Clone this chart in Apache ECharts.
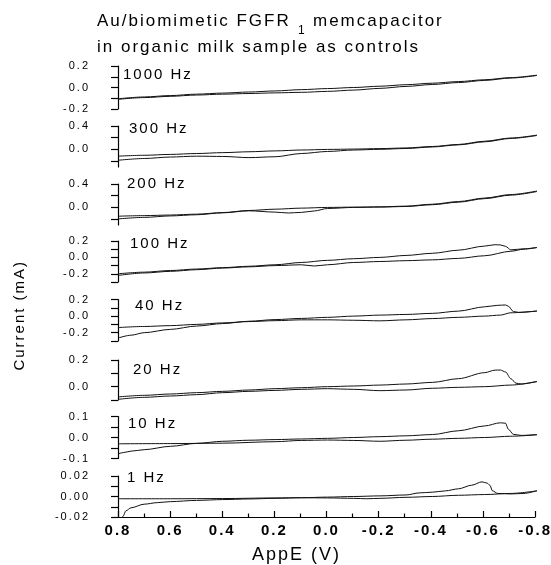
<!DOCTYPE html>
<html>
<head>
<meta charset="utf-8">
<script src="https://cdn.jsdelivr.net/npm/echarts@6/dist/echarts.min.js"></script>
<style>
  html, body { margin: 0; padding: 0; background: #fff; }
  #wrap { position: relative; width: 551px; height: 565px; }
  #frame, #plot { position: absolute; left: 0; top: 0; width: 551px; height: 565px; }
</style>
</head>
<body>
<div id="wrap">
  <div id="frame"></div>
  <div id="plot"></div>
</div>
<script>
// ---- data -------------------------------------------------------------
// Panel captions, top to bottom
const frequencies = ['1000 Hz', '300 Hz', '200 Hz', '100 Hz', '40 Hz', '20 Hz', '10 Hz', '1 Hz'];

// Applied potential axis (V), drawn from +0.8 on the left to -0.8 on the right
const potentialMin = -0.8;
const potentialMax = 0.8;
const potentialStep = 0.2;

// Current (mA) scale of each panel
const currentMin = [-0.2, -0.3, -0.3, -0.3, -0.3, -0.1, -0.1, -0.02];
const currentMax = [0.2, 0.4, 0.4, 0.2, 0.2, 0.2, 0.1, 0.02];
const currentTicks = [
  [-0.2, -0.1, 0, 0.1, 0.2],
  [-0.2, 0, 0.2, 0.4],
  [-0.2, 0, 0.2, 0.4],
  [-0.3, -0.2, -0.1, 0, 0.1, 0.2],
  [-0.3, -0.2, -0.1, 0, 0.1, 0.2],
  [-0.1, 0, 0.1, 0.2],
  [-0.1, -0.05, 0, 0.05, 0.1],
  [-0.02, -0.01, 0, 0.01, 0.02]
];
const currentTickLabels = [
  [-0.2, 0, 0.2],
  [0, 0.4],
  [0, 0.4],
  [-0.2, 0, 0.2],
  [-0.2, 0, 0.2],
  [0, 0.2],
  [-0.1, 0, 0.1],
  [-0.02, 0, 0.02]
];
const currentDigits = [1, 1, 1, 1, 1, 1, 1, 2];

// Voltammogram branches, [E (V), I (mA)]
const scan1000a = [[0.8,-0.105],[0.7,-0.088],[0.6,-0.075],[0.5,-0.062],[0.4,-0.052],[0.3,-0.042],[0.2,-0.032],[0.1,-0.02],[0.0,-0.01],[-0.1,0.0],[-0.2,0.012],[-0.3,0.026],[-0.4,0.04],[-0.5,0.055],[-0.6,0.072],[-0.7,0.092],[-0.8,0.115]];
const scan1000b = [[0.8,-0.11],[0.7,-0.094],[0.6,-0.082],[0.5,-0.07],[0.4,-0.062],[0.3,-0.056],[0.2,-0.05],[0.1,-0.045],[0.0,-0.036],[-0.1,-0.024],[-0.2,-0.008],[-0.3,0.01],[-0.4,0.028],[-0.5,0.046],[-0.6,0.066],[-0.7,0.088],[-0.8,0.112]];

const scan300a = [[0.8,-0.115],[0.7,-0.1],[0.6,-0.085],[0.5,-0.07],[0.4,-0.055],[0.3,-0.04],[0.2,-0.025],[0.1,-0.01],[0.0,0.0],[-0.1,0.006],[-0.2,0.014],[-0.3,0.025],[-0.4,0.05],[-0.5,0.085],[-0.6,0.14],[-0.7,0.195],[-0.8,0.245]];
const scan300b = [[0.8,-0.185],[0.7,-0.155],[0.6,-0.13],[0.5,-0.115],[0.4,-0.12],[0.3,-0.14],[0.2,-0.125],[0.1,-0.07],[0.0,-0.035],[-0.1,-0.01],[-0.2,0.002],[-0.3,0.016],[-0.4,0.042],[-0.5,0.078],[-0.6,0.13],[-0.7,0.188],[-0.8,0.238]];

const scan200a = [[0.8,-0.15],[0.7,-0.14],[0.6,-0.13],[0.5,-0.115],[0.4,-0.088],[0.3,-0.052],[0.2,-0.03],[0.1,-0.012],[0.0,0.0],[-0.1,0.005],[-0.2,0.01],[-0.3,0.022],[-0.4,0.055],[-0.5,0.1],[-0.6,0.16],[-0.7,0.22],[-0.8,0.28]];
const scan200b = [[0.8,-0.196],[0.7,-0.17],[0.6,-0.145],[0.5,-0.125],[0.4,-0.092],[0.3,-0.058],[0.2,-0.08],[0.15,-0.095],[0.1,-0.085],[0.05,-0.06],[0.0,-0.018],[-0.1,0.0],[-0.2,0.006],[-0.3,0.016],[-0.4,0.046],[-0.5,0.09],[-0.6,0.15],[-0.7,0.21],[-0.8,0.272]];

const scan100a = [[0.8,-0.2],[0.7,-0.18],[0.6,-0.16],[0.5,-0.142],[0.4,-0.125],[0.3,-0.108],[0.2,-0.09],[0.1,-0.062],[0.0,-0.036],[-0.1,-0.016],[-0.2,0.0],[-0.3,0.024],[-0.4,0.05],[-0.5,0.088],[-0.6,0.138],[-0.64,0.155],[-0.66,0.152],[-0.68,0.135],[-0.7,0.092],[-0.75,0.105],[-0.8,0.12]];
const scan100b = [[0.8,-0.22],[0.7,-0.19],[0.6,-0.17],[0.5,-0.15],[0.4,-0.13],[0.3,-0.115],[0.2,-0.1],[0.1,-0.09],[0.05,-0.105],[0.0,-0.09],[-0.1,-0.062],[-0.2,-0.05],[-0.3,-0.04],[-0.4,-0.03],[-0.5,-0.012],[-0.6,0.02],[-0.7,0.075],[-0.75,0.1],[-0.8,0.122]];

const scan40a = [[0.8,-0.138],[0.7,-0.125],[0.6,-0.115],[0.5,-0.1],[0.4,-0.082],[0.3,-0.066],[0.2,-0.055],[0.1,-0.045],[0.0,-0.045],[-0.1,-0.05],[-0.2,-0.057],[-0.3,-0.045],[-0.4,-0.03],[-0.5,-0.015],[-0.6,0.0],[-0.66,0.012],[-0.7,0.04],[-0.8,0.061]];
const scan40b = [[0.8,-0.265],[0.75,-0.23],[0.7,-0.2],[0.6,-0.16],[0.5,-0.12],[0.4,-0.09],[0.3,-0.062],[0.2,-0.042],[0.1,-0.028],[0.0,-0.015],[-0.1,0.0],[-0.2,0.012],[-0.3,0.02],[-0.4,0.033],[-0.5,0.06],[-0.6,0.112],[-0.65,0.13],[-0.68,0.134],[-0.69,0.12],[-0.71,0.055],[-0.73,0.045],[-0.8,0.061]];

const scan20a = [[0.8,-0.077],[0.7,-0.065],[0.6,-0.055],[0.5,-0.045],[0.4,-0.035],[0.3,-0.025],[0.2,-0.015],[0.1,-0.008],[0.0,0.0],[-0.1,0.005],[-0.2,0.012],[-0.3,0.02],[-0.4,0.032],[-0.5,0.06],[-0.6,0.105],[-0.64,0.124],[-0.66,0.125],[-0.68,0.11],[-0.7,0.06],[-0.72,0.026],[-0.74,0.02],[-0.8,0.04]];
const scan20b = [[0.8,-0.095],[0.7,-0.08],[0.6,-0.07],[0.5,-0.06],[0.4,-0.045],[0.3,-0.035],[0.2,-0.028],[0.1,-0.02],[0.0,-0.015],[-0.1,-0.02],[-0.2,-0.03],[-0.3,-0.025],[-0.4,-0.012],[-0.5,-0.005],[-0.6,0.0],[-0.7,0.012],[-0.8,0.038]];

const scan10a = [[0.8,-0.078],[0.78,-0.072],[0.75,-0.065],[0.7,-0.058],[0.6,-0.042],[0.5,-0.028],[0.4,-0.018],[0.3,-0.013],[0.2,-0.01],[0.1,-0.007],[0.0,-0.004],[-0.1,0.0],[-0.2,0.004],[-0.3,0.008],[-0.4,0.014],[-0.5,0.032],[-0.6,0.055],[-0.66,0.07],[-0.68,0.068],[-0.69,0.04],[-0.71,0.015],[-0.74,0.01],[-0.8,0.014]];
const scan10b = [[0.8,-0.03],[0.6,-0.029],[0.4,-0.027],[0.2,-0.02],[0.1,-0.014],[0.0,-0.012],[-0.1,-0.014],[-0.2,-0.018],[-0.3,-0.013],[-0.4,-0.008],[-0.5,-0.004],[-0.6,0.0],[-0.7,0.006],[-0.8,0.013]];

const scan1a = [[0.8,-0.04],[0.79,-0.026],[0.78,-0.019],[0.77,-0.014],[0.75,-0.011],[0.7,-0.0075],[0.65,-0.006],[0.6,-0.005],[0.5,-0.0038],[0.4,-0.003],[0.3,-0.0024],[0.2,-0.0018],[0.1,-0.0012],[0.0,-0.0006],[-0.1,0.0],[-0.2,0.0006],[-0.3,0.0015],[-0.35,0.0035],[-0.4,0.0042],[-0.45,0.0055],[-0.5,0.0075],[-0.55,0.011],[-0.59,0.0143],[-0.61,0.013],[-0.62,0.011],[-0.63,0.0055],[-0.65,0.003],[-0.7,0.0025],[-0.75,0.003],[-0.8,0.0057]];
const scan1b = [[0.8,-0.0022],[0.6,-0.0022],[0.4,-0.002],[0.2,-0.0014],[0.1,-0.0012],[0.0,-0.0014],[-0.1,-0.0018],[-0.15,-0.0022],[-0.2,-0.0018],[-0.3,-0.0008],[-0.4,0.0],[-0.5,0.0012],[-0.6,0.0019],[-0.7,0.003],[-0.8,0.0055]];

const branches = [
  [scan1000a, scan1000b], [scan300a, scan300b], [scan200a, scan200b], [scan100a, scan100b],
  [scan40a, scan40b], [scan20a, scan20b], [scan10a, scan10b], [scan1a, scan1b]
];

// ---- layout -----------------------------------------------------------
const plotLeft = 118;
const plotRight = 14;
const panelTop = [66, 126, 184, 241, 299.5, 360, 416.5, 476];
const panelBottom = [109, 167, 225, 282, 341, 400, 458.5, 517];
const captionPos = [[123, 75], [129, 129], [127, 184], [130, 244], [135, 306], [133, 370], [128, 423.5], [127, 478]];
const FONT = 'Liberation Sans, Arial, Helvetica, sans-serif';
const axisStyle = () => ({ color: '#000', width: 1.2 });

// Panel grids, shared by the frame layer and the curve layer
function buildGrids() {
  return frequencies.map((f, i) => ({
    left: plotLeft, right: plotRight,
    top: panelTop[i], height: panelBottom[i] - panelTop[i]
  }));
}

// Axes; `visible` = false gives the same scales with nothing drawn
function buildAxes(visible) {
  const xAxes = [], yAxes = [];
  for (let i = 0; i < frequencies.length; i++) {
    const last = i === frequencies.length - 1;
    const showX = visible && last;
    xAxes.push({
      type: 'value', gridIndex: i, inverse: true,
      min: potentialMin, max: potentialMax, interval: potentialStep,
      axisLine: { show: showX, onZero: false, lineStyle: axisStyle() },
      axisTick: { show: showX, inside: true, length: 6, lineStyle: axisStyle() },
      minorTick: { show: showX, splitNumber: 2, length: 3.5, lineStyle: axisStyle() },
      splitLine: { show: false },
      axisLabel: {
        show: showX, margin: 6, color: '#000',
        fontFamily: FONT, fontSize: 15, fontWeight: 'bold',
        formatter: v => v.toFixed(1)
      }
    });
    const digits = currentDigits[i];
    const yAxis = {
      type: 'value', gridIndex: i,
      min: currentMin[i], max: currentMax[i],
      axisLine: { show: visible, onZero: false, lineStyle: axisStyle() },
      axisTick: { show: visible, inside: false, length: 7, customValues: currentTicks[i], lineStyle: axisStyle() },
      splitLine: { show: false },
      axisLabel: {
        show: visible, margin: 28, color: '#000', fontFamily: FONT, fontSize: 11,
        customValues: currentTickLabels[i],
        formatter: v => v.toFixed(digits)
      }
    };
    if (visible && i === 4) {
      // shared ordinate title, placed beside the middle panel
      Object.assign(yAxis, {
        name: 'Current (mA)', nameLocation: 'middle', nameRotate: 90, nameGap: 91,
        nameTextStyle: { color: '#000', fontFamily: FONT, fontSize: 15, padding: [0, 0, 0, 10] }
      });
    }
    yAxes.push(yAxis);
  }
  return { xAxes, yAxes };
}

// ---- curves -------------------------------------------------------------
const series = [];
branches.forEach((pair, i) => {
  pair.forEach(branch => {
    series.push({
      type: 'line', xAxisIndex: i, yAxisIndex: i,
      data: branch, showSymbol: false, smooth: 0.3, smoothMonotone: 'x',
      clip: true,
      lineStyle: { color: '#111', width: 1 }
    });
  });
});

// ---- text blocks --------------------------------------------------------
const plainText = (size, lh) => ({ fontFamily: FONT, fontSize: size, lineHeight: lh, fontWeight: 'normal', color: '#000' });
const titles = [
  { left: 97, top: 10, padding: 0, text: 'Au/biomimetic FGFR', textStyle: plainText(17, 22) },
  { left: 298, top: 24, padding: 0, text: '1', textStyle: plainText(12, 14) },
  { left: 313, top: 10, padding: 0, text: 'memcapacitor', textStyle: plainText(17, 22) },
  { left: 97, top: 36, padding: 0, text: 'in organic milk sample as controls', textStyle: plainText(17, 22) },
  { left: 252, top: 544, padding: 0, text: 'AppE (V)', textStyle: plainText(18, 22) }
];
frequencies.forEach((f, i) => {
  titles.push({
    left: captionPos[i][0], top: captionPos[i][1] - 9, padding: 0,
    text: f, textStyle: plainText(15, 18)
  });
});

// Frame layer: panel axes, ticks and tick labels
const frameChart = echarts.init(document.getElementById('frame'), null, { renderer: 'canvas' });
const frameAxes = buildAxes(true);
frameChart.setOption({
  animation: false,
  grid: buildGrids(),
  xAxis: frameAxes.xAxes,
  yAxis: frameAxes.yAxes
});

// Curve layer on top: same grids and scales, plus the voltammograms and captions
const plotChart = echarts.init(document.getElementById('plot'), null, { renderer: 'canvas' });
const plotAxes = buildAxes(false);
plotChart.setOption({
  animation: false,
  title: titles,
  grid: buildGrids(),
  xAxis: plotAxes.xAxes,
  yAxis: plotAxes.yAxes,
  series: series
});

// Widely tracked lettering: give the drawing contexts some letter spacing and repaint once
[frameChart, plotChart].forEach(chart => {
  chart.getDom().querySelectorAll('canvas').forEach(c => {
    const ctx = c.getContext('2d');
    if (ctx && 'letterSpacing' in ctx) ctx.letterSpacing = '2px';
  });
  const painter = chart.getZr().painter;
  if (painter && painter.refresh) painter.refresh(true);
});
</script>
</body>
</html>
